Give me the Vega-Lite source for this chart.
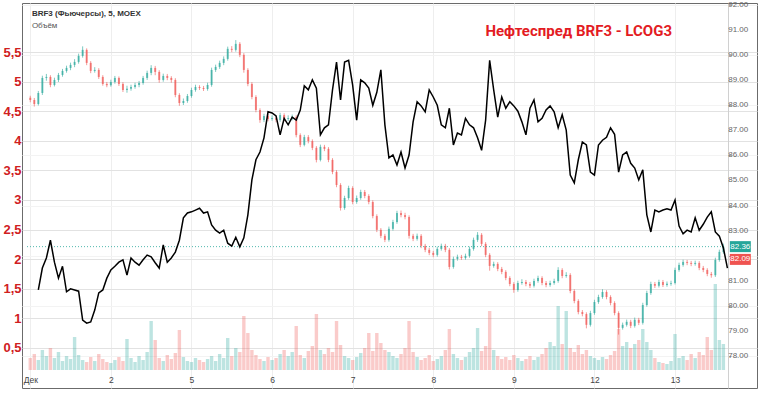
{
"$schema": "https://vega.github.io/schema/vega-lite/v6.json",
"width": 735, "height": 385,
"autosize": {"type": "none"},
"padding": {"left": 22, "top": 3, "right": 1, "bottom": 8},
"background": "white",
"config": {"view": {"stroke": "#6b6b6b", "strokeWidth": 1}, "axis": {"labelFont": "Liberation Sans"}},
"title": {"text": "Нефтеспред BRF3 - LCOG3", "anchor": "end", "frame": "group", "orient": "top", "color": "#e31b23", "font": "Roboto", "fontSize": 15, "fontWeight": "bold", "dx": -85, "dy": 38, "offset": 0},
"data": {"values": [
{"i":0,"o":88.30,"h":88.38,"l":88.12,"c":88.21,"v":12},
{"i":1,"o":88.21,"h":88.29,"l":87.95,"c":88.05,"v":16},
{"i":2,"o":88.05,"h":88.57,"l":87.99,"c":88.49,"v":10,"s":1.48},
{"i":3,"o":88.49,"h":89.18,"l":88.41,"c":89.09,"v":20,"s":1.85},
{"i":4,"o":89.09,"h":89.25,"l":88.98,"c":89.13,"v":14,"s":2.02},
{"i":5,"o":89.13,"h":89.20,"l":88.72,"c":88.81,"v":22,"s":2.32},
{"i":6,"o":88.81,"h":89.10,"l":88.75,"c":89.01,"v":12,"s":1.95},
{"i":7,"o":89.01,"h":89.29,"l":88.93,"c":89.21,"v":18,"s":1.68},
{"i":8,"o":89.21,"h":89.45,"l":89.14,"c":89.37,"v":9,"s":1.88},
{"i":9,"o":89.37,"h":89.58,"l":89.30,"c":89.49,"v":14,"s":1.45},
{"i":10,"o":89.49,"h":89.70,"l":89.40,"c":89.61,"v":11,"s":1.50},
{"i":11,"o":89.61,"h":89.84,"l":89.52,"c":89.73,"v":33,"s":1.48},
{"i":12,"o":89.73,"h":90.06,"l":89.66,"c":89.97,"v":15,"s":1.46},
{"i":13,"o":89.97,"h":90.35,"l":89.90,"c":90.21,"v":10,"s":0.97},
{"i":14,"o":90.21,"h":90.27,"l":89.60,"c":89.69,"v":8,"s":0.92},
{"i":15,"o":89.69,"h":89.76,"l":89.28,"c":89.37,"v":13,"s":0.94},
{"i":16,"o":89.37,"h":89.52,"l":89.30,"c":89.41,"v":9,"s":1.14},
{"i":17,"o":89.41,"h":89.48,"l":89.05,"c":89.13,"v":16,"s":1.43},
{"i":18,"o":89.13,"h":89.20,"l":88.78,"c":88.85,"v":11,"s":1.48},
{"i":19,"o":88.85,"h":88.93,"l":88.72,"c":88.80,"v":8,"s":1.68},
{"i":20,"o":88.80,"h":89.02,"l":88.74,"c":88.93,"v":7,"s":1.82},
{"i":21,"o":88.93,"h":89.17,"l":88.86,"c":89.09,"v":10,"s":1.88},
{"i":22,"o":89.09,"h":89.15,"l":88.77,"c":88.85,"v":13,"s":1.95},
{"i":23,"o":88.85,"h":88.92,"l":88.53,"c":88.61,"v":9,"s":1.99},
{"i":24,"o":88.61,"h":88.78,"l":88.50,"c":88.66,"v":31,"s":1.73},
{"i":25,"o":88.66,"h":88.82,"l":88.58,"c":88.73,"v":12,"s":2.02},
{"i":26,"o":88.73,"h":88.90,"l":88.66,"c":88.81,"v":8,"s":1.95},
{"i":27,"o":88.81,"h":88.97,"l":88.72,"c":88.89,"v":14,"s":1.90},
{"i":28,"o":88.89,"h":89.17,"l":88.82,"c":89.09,"v":10,"s":1.99},
{"i":29,"o":89.09,"h":89.38,"l":89.01,"c":89.29,"v":18,"s":2.07},
{"i":30,"o":89.29,"h":89.60,"l":89.20,"c":89.49,"v":49,"s":2.04},
{"i":31,"o":89.49,"h":89.57,"l":89.20,"c":89.33,"v":30,"s":1.94},
{"i":32,"o":89.33,"h":89.40,"l":88.90,"c":89.01,"v":12,"s":1.85},
{"i":33,"o":89.01,"h":89.26,"l":88.94,"c":89.17,"v":9,"s":2.24},
{"i":34,"o":89.17,"h":89.25,"l":89.00,"c":89.09,"v":15,"s":1.95},
{"i":35,"o":89.09,"h":89.16,"l":88.90,"c":89.01,"v":11,"s":2.02},
{"i":36,"o":89.01,"h":89.08,"l":88.32,"c":88.41,"v":17,"s":2.12},
{"i":37,"o":88.41,"h":88.48,"l":87.98,"c":88.09,"v":40,"s":2.32},
{"i":38,"o":88.09,"h":88.27,"l":88.01,"c":88.17,"v":13,"s":2.70},
{"i":39,"o":88.17,"h":88.45,"l":88.10,"c":88.37,"v":9,"s":2.78},
{"i":40,"o":88.37,"h":88.70,"l":88.30,"c":88.61,"v":8,"s":2.80},
{"i":41,"o":88.61,"h":88.82,"l":88.54,"c":88.73,"v":12,"s":2.83},
{"i":42,"o":88.73,"h":88.80,"l":88.61,"c":88.69,"v":10,"s":2.86},
{"i":43,"o":88.69,"h":88.77,"l":88.57,"c":88.65,"v":8,"s":2.78},
{"i":44,"o":88.65,"h":88.90,"l":88.58,"c":88.81,"v":11,"s":2.80},
{"i":45,"o":88.81,"h":89.50,"l":88.74,"c":89.41,"v":14,"s":2.58},
{"i":46,"o":89.41,"h":89.62,"l":89.33,"c":89.53,"v":9,"s":2.49},
{"i":47,"o":89.53,"h":89.78,"l":89.45,"c":89.69,"v":16,"s":2.44},
{"i":48,"o":89.69,"h":89.95,"l":89.60,"c":89.85,"v":12,"s":2.49},
{"i":49,"o":89.85,"h":90.34,"l":89.78,"c":90.25,"v":32,"s":2.27},
{"i":50,"o":90.25,"h":90.36,"l":90.12,"c":90.21,"v":14,"s":2.22},
{"i":51,"o":90.21,"h":90.60,"l":90.14,"c":90.45,"v":22,"s":2.37},
{"i":52,"o":90.45,"h":90.52,"l":89.92,"c":90.01,"v":18,"s":2.21},
{"i":53,"o":90.01,"h":90.08,"l":89.30,"c":89.41,"v":54,"s":2.36},
{"i":54,"o":89.41,"h":89.48,"l":88.76,"c":88.85,"v":37,"s":2.75},
{"i":55,"o":88.85,"h":88.92,"l":88.24,"c":88.33,"v":20,"s":3.34},
{"i":56,"o":88.33,"h":88.40,"l":87.72,"c":87.81,"v":15,"s":3.68},
{"i":57,"o":87.81,"h":87.88,"l":87.30,"c":87.41,"v":11,"s":3.81},
{"i":58,"o":87.41,"h":87.66,"l":87.33,"c":87.57,"v":9,"s":4.05},
{"i":59,"o":87.57,"h":87.65,"l":87.36,"c":87.45,"v":13,"s":4.49},
{"i":60,"o":87.45,"h":87.60,"l":87.38,"c":87.49,"v":10,"s":4.47},
{"i":61,"o":87.49,"h":87.57,"l":87.32,"c":87.41,"v":12,"s":4.42},
{"i":62,"o":87.41,"h":87.70,"l":87.34,"c":87.61,"v":16,"s":4.10},
{"i":63,"o":87.61,"h":87.68,"l":87.36,"c":87.45,"v":20,"s":4.38},
{"i":64,"o":87.45,"h":87.60,"l":87.37,"c":87.49,"v":14,"s":4.27},
{"i":65,"o":87.49,"h":87.63,"l":87.40,"c":87.53,"v":18,"s":4.40},
{"i":66,"o":87.53,"h":87.60,"l":86.72,"c":86.81,"v":44,"s":4.35},
{"i":67,"o":86.81,"h":86.88,"l":86.33,"c":86.42,"v":15,"s":4.52},
{"i":68,"o":86.42,"h":86.82,"l":86.36,"c":86.73,"v":12,"s":4.93},
{"i":69,"o":86.73,"h":86.81,"l":86.48,"c":86.57,"v":19,"s":4.86},
{"i":70,"o":86.57,"h":86.64,"l":86.21,"c":86.30,"v":24,"s":5.03},
{"i":71,"o":86.30,"h":86.37,"l":85.72,"c":85.82,"v":56,"s":4.89},
{"i":72,"o":85.82,"h":86.43,"l":85.76,"c":86.34,"v":20,"s":4.10},
{"i":73,"o":86.34,"h":86.42,"l":86.17,"c":86.26,"v":16,"s":4.22},
{"i":74,"o":86.26,"h":86.33,"l":85.73,"c":85.82,"v":22,"s":4.27},
{"i":75,"o":85.82,"h":85.89,"l":85.25,"c":85.34,"v":18,"s":4.86},
{"i":76,"o":85.34,"h":85.41,"l":84.73,"c":84.82,"v":49,"s":5.33},
{"i":77,"o":84.82,"h":84.89,"l":83.80,"c":83.90,"v":25,"s":4.69},
{"i":78,"o":83.90,"h":84.39,"l":83.83,"c":84.30,"v":14,"s":5.33},
{"i":79,"o":84.30,"h":84.79,"l":84.23,"c":84.70,"v":12,"s":5.36},
{"i":80,"o":84.70,"h":84.77,"l":84.05,"c":84.14,"v":10,"s":4.94},
{"i":81,"o":84.14,"h":84.40,"l":84.07,"c":84.30,"v":13,"s":4.35},
{"i":82,"o":84.30,"h":84.63,"l":84.23,"c":84.54,"v":17,"s":5.03},
{"i":83,"o":84.54,"h":84.62,"l":84.29,"c":84.38,"v":22,"s":4.98},
{"i":84,"o":84.38,"h":84.45,"l":84.05,"c":84.14,"v":37,"s":4.89},
{"i":85,"o":84.14,"h":84.21,"l":83.49,"c":83.58,"v":19,"s":4.60},
{"i":86,"o":83.58,"h":83.65,"l":82.94,"c":83.03,"v":37,"s":4.82},
{"i":87,"o":83.03,"h":83.10,"l":82.70,"c":82.79,"v":27,"s":5.20},
{"i":88,"o":82.79,"h":82.87,"l":82.54,"c":82.63,"v":20,"s":4.27},
{"i":89,"o":82.63,"h":83.16,"l":82.56,"c":83.07,"v":18,"s":3.71},
{"i":90,"o":83.07,"h":83.43,"l":83.00,"c":83.34,"v":14,"s":3.76},
{"i":91,"o":83.34,"h":83.79,"l":83.27,"c":83.70,"v":12,"s":3.59},
{"i":92,"o":83.70,"h":83.80,"l":83.53,"c":83.62,"v":16,"s":3.81},
{"i":93,"o":83.62,"h":83.71,"l":83.45,"c":83.54,"v":22,"s":3.54},
{"i":94,"o":83.54,"h":83.61,"l":82.68,"c":82.79,"v":49,"s":3.76},
{"i":95,"o":82.79,"h":82.87,"l":82.58,"c":82.67,"v":18,"s":4.32},
{"i":96,"o":82.67,"h":82.88,"l":82.60,"c":82.79,"v":13,"s":4.66},
{"i":97,"o":82.79,"h":82.86,"l":82.30,"c":82.39,"v":10,"s":4.59},
{"i":98,"o":82.39,"h":82.47,"l":82.14,"c":82.23,"v":12,"s":4.49},
{"i":99,"o":82.23,"h":82.31,"l":82.02,"c":82.11,"v":15,"s":4.86},
{"i":100,"o":82.11,"h":82.19,"l":81.94,"c":82.03,"v":9,"s":4.74},
{"i":101,"o":82.03,"h":82.36,"l":81.96,"c":82.27,"v":11,"s":4.60},
{"i":102,"o":82.27,"h":82.48,"l":82.20,"c":82.39,"v":14,"s":4.27},
{"i":103,"o":82.39,"h":82.47,"l":82.14,"c":82.23,"v":20,"s":4.22},
{"i":104,"o":82.23,"h":82.30,"l":81.45,"c":81.55,"v":41,"s":4.55},
{"i":105,"o":81.55,"h":81.96,"l":81.48,"c":81.87,"v":16,"s":3.93},
{"i":106,"o":81.87,"h":82.04,"l":81.80,"c":81.95,"v":12,"s":4.13},
{"i":107,"o":81.95,"h":82.03,"l":81.83,"c":81.91,"v":10,"s":4.10},
{"i":108,"o":81.91,"h":82.08,"l":81.84,"c":81.99,"v":13,"s":4.38},
{"i":109,"o":81.99,"h":82.36,"l":81.92,"c":82.27,"v":18,"s":4.27},
{"i":110,"o":82.27,"h":82.72,"l":82.20,"c":82.63,"v":22,"s":4.22},
{"i":111,"o":82.63,"h":82.94,"l":82.55,"c":82.83,"v":42,"s":4.05},
{"i":112,"o":82.83,"h":82.90,"l":82.38,"c":82.47,"v":19,"s":3.84},
{"i":113,"o":82.47,"h":82.54,"l":81.94,"c":82.03,"v":24,"s":4.35},
{"i":114,"o":82.03,"h":82.10,"l":81.40,"c":81.59,"v":59,"s":5.36},
{"i":115,"o":81.59,"h":81.76,"l":81.52,"c":81.67,"v":20,"s":4.86},
{"i":116,"o":81.67,"h":81.74,"l":81.38,"c":81.47,"v":14,"s":4.40},
{"i":117,"o":81.47,"h":81.55,"l":81.26,"c":81.35,"v":11,"s":4.74},
{"i":118,"o":81.35,"h":81.42,"l":81.02,"c":81.11,"v":13,"s":4.55},
{"i":119,"o":81.11,"h":81.18,"l":80.78,"c":80.87,"v":10,"s":4.66},
{"i":120,"o":80.87,"h":80.94,"l":80.52,"c":80.63,"v":15,"s":4.59},
{"i":121,"o":80.63,"h":81.00,"l":80.56,"c":80.91,"v":12,"s":4.50},
{"i":122,"o":80.91,"h":81.06,"l":80.84,"c":80.95,"v":9,"s":4.32},
{"i":123,"o":80.95,"h":81.03,"l":80.78,"c":80.87,"v":11,"s":4.10},
{"i":124,"o":80.87,"h":80.95,"l":80.71,"c":80.80,"v":14,"s":4.55},
{"i":125,"o":80.80,"h":81.08,"l":80.73,"c":80.99,"v":10,"s":4.69},
{"i":126,"o":80.99,"h":81.20,"l":80.92,"c":81.11,"v":13,"s":4.32},
{"i":127,"o":81.11,"h":81.18,"l":80.82,"c":80.91,"v":16,"s":4.38},
{"i":128,"o":80.91,"h":80.99,"l":80.74,"c":80.83,"v":22,"s":4.52},
{"i":129,"o":80.83,"h":81.00,"l":80.76,"c":80.91,"v":28,"s":4.59},
{"i":130,"o":80.91,"h":81.08,"l":80.84,"c":80.99,"v":24,"s":4.49},
{"i":131,"o":80.99,"h":81.54,"l":80.92,"c":81.43,"v":64,"s":4.22},
{"i":132,"o":81.43,"h":81.50,"l":81.10,"c":81.19,"v":26,"s":4.44},
{"i":133,"o":81.19,"h":81.34,"l":81.12,"c":81.23,"v":59,"s":4.18},
{"i":134,"o":81.23,"h":81.30,"l":80.50,"c":80.59,"v":22,"s":3.42},
{"i":135,"o":80.59,"h":80.66,"l":80.10,"c":80.19,"v":18,"s":3.29},
{"i":136,"o":80.19,"h":80.26,"l":79.66,"c":79.75,"v":25,"s":3.68},
{"i":137,"o":79.75,"h":79.83,"l":79.58,"c":79.67,"v":16,"s":3.98},
{"i":138,"o":79.67,"h":79.74,"l":79.10,"c":79.24,"v":20,"s":3.93},
{"i":139,"o":79.24,"h":79.80,"l":79.17,"c":79.71,"v":14,"s":3.47},
{"i":140,"o":79.71,"h":80.24,"l":79.64,"c":80.15,"v":12,"s":3.42},
{"i":141,"o":80.15,"h":80.44,"l":80.08,"c":80.35,"v":10,"s":3.93},
{"i":142,"o":80.35,"h":80.66,"l":80.28,"c":80.55,"v":13,"s":4.01},
{"i":143,"o":80.55,"h":80.62,"l":80.26,"c":80.35,"v":11,"s":4.06},
{"i":144,"o":80.35,"h":80.42,"l":80.02,"c":80.11,"v":15,"s":4.22},
{"i":145,"o":80.11,"h":80.18,"l":79.62,"c":79.71,"v":19,"s":4.11},
{"i":146,"o":79.71,"h":79.78,"l":78.85,"c":79.12,"v":41,"s":3.47},
{"i":147,"o":79.12,"h":79.33,"l":79.05,"c":79.24,"v":24,"s":3.76},
{"i":148,"o":79.24,"h":79.45,"l":79.17,"c":79.36,"v":28,"s":3.81},
{"i":149,"o":79.36,"h":79.44,"l":79.11,"c":79.20,"v":22,"s":3.62},
{"i":150,"o":79.20,"h":79.53,"l":79.13,"c":79.44,"v":26,"s":3.54},
{"i":151,"o":79.44,"h":79.52,"l":79.23,"c":79.32,"v":30,"s":3.34},
{"i":152,"o":79.32,"h":80.12,"l":79.25,"c":80.03,"v":41,"s":3.51},
{"i":153,"o":80.03,"h":80.60,"l":79.96,"c":80.51,"v":28,"s":2.75},
{"i":154,"o":80.51,"h":80.96,"l":80.44,"c":80.87,"v":20,"s":2.46},
{"i":155,"o":80.87,"h":80.95,"l":80.71,"c":80.80,"v":12,"s":2.83},
{"i":156,"o":80.80,"h":81.04,"l":80.73,"c":80.95,"v":8,"s":2.80},
{"i":157,"o":80.95,"h":81.03,"l":80.75,"c":80.83,"v":7,"s":2.83},
{"i":158,"o":80.83,"h":80.97,"l":80.76,"c":80.88,"v":6,"s":2.85},
{"i":159,"o":80.88,"h":81.00,"l":80.80,"c":80.91,"v":9,"s":2.83},
{"i":160,"o":80.91,"h":81.52,"l":80.85,"c":81.43,"v":36,"s":3.00},
{"i":161,"o":81.43,"h":81.72,"l":81.36,"c":81.63,"v":12,"s":2.56},
{"i":162,"o":81.63,"h":81.84,"l":81.56,"c":81.75,"v":14,"s":2.43},
{"i":163,"o":81.75,"h":81.83,"l":81.62,"c":81.71,"v":10,"s":2.49},
{"i":164,"o":81.71,"h":81.79,"l":81.58,"c":81.67,"v":16,"s":2.46},
{"i":165,"o":81.67,"h":81.80,"l":81.60,"c":81.71,"v":12,"s":2.70},
{"i":166,"o":81.71,"h":81.78,"l":81.42,"c":81.51,"v":18,"s":2.49},
{"i":167,"o":81.51,"h":81.59,"l":81.34,"c":81.43,"v":15,"s":2.59},
{"i":168,"o":81.43,"h":81.50,"l":81.18,"c":81.27,"v":33,"s":2.71},
{"i":169,"o":81.27,"h":81.35,"l":81.12,"c":81.22,"v":20,"s":2.80},
{"i":170,"o":81.22,"h":81.92,"l":81.15,"c":81.83,"v":86,"s":2.46},
{"i":171,"o":81.83,"h":82.24,"l":81.76,"c":82.15,"v":30,"s":2.39},
{"i":172,"o":82.15,"h":82.48,"l":82.08,"c":82.36,"v":26,"s":2.19},
{"i":173,"s":1.85}
]},
"layer": [
{
 "layer": [
  {
   "mark": {"type": "bar", "width": 3.4, "opacity": 0.3},
   "encoding": {
    "x": {"field": "i", "type": "quantitative", "title": null, "scale": {"domain": [-0.81, 179.1], "nice": false, "zero": false},
          "axis": {"orient": "bottom", "offset": -17, "values": [0,20,40,60,80,100,120,140,160], "labelExpr": "['Дек','2','5','6','7','8','9','12','13'][round(datum.value/20)]", "domain": false, "ticks": false, "labelPadding": 4, "labelFontSize": 8.5, "labelColor": "#444", "grid": true, "gridColor": "#eeeeee", "title": null}},
    "y": {"field": "v", "type": "quantitative", "title": null, "stack": null, "scale": {"domain": [-18, 367], "nice": false, "zero": false}, "axis": null},
    "y2": {"datum": 0},
    "color": {"condition": {"test": "datum.c >= datum.o", "value": "#26a69a"}, "value": "#ef5350"}
   }
  },
  {
   "data": {"values": [{"txt": "BRF3 (Фьючерсы), 5, MOEX"}]},
   "mark": {"type": "text", "align": "left", "baseline": "middle", "font": "Liberation Sans", "fontSize": 8, "fontWeight": "bold", "color": "#333"},
   "encoding": {"x": {"datum": 0.4}, "y": {"datum": 356, "axis": null}, "text": {"field": "txt"}}
  },
  {
   "data": {"values": [{"txt": "Объём"}]},
   "mark": {"type": "text", "align": "left", "baseline": "middle", "font": "Liberation Sans", "fontSize": 8, "color": "#555"},
   "encoding": {"x": {"datum": 0.4}, "y": {"datum": 344.5, "axis": null}, "text": {"field": "txt"}}
  }
 ]
},
{
 "layer": [
  {
   "mark": {"type": "rule", "strokeWidth": 1, "opacity": 0.6},
   "encoding": {
    "x": {"field": "i", "type": "quantitative", "title": null},
    "y": {"field": "l", "type": "quantitative", "title": null, "scale": {"domain": [76.72, 92.08], "nice": false, "zero": false},
          "axis": {"orient": "right", "offset": -29, "values": [78,79,80,81,82,83,84,85,86,87,88,89,90,91,92], "labels": false, "tickSize": 3, "tickColor": "#aaaaaa", "domain": true, "domainColor": "#d0d0d0", "grid": true, "gridColor": "#f3f3f3", "title": null}},
    "y2": {"field": "h"},
    "color": {"condition": {"test": "datum.c >= datum.o", "value": "#26a69a"}, "value": "#ef5350"}
   }
  },
  {
   "mark": {"type": "bar", "width": 2, "opacity": 0.65},
   "encoding": {
    "x": {"field": "i", "type": "quantitative", "title": null},
    "y": {"field": "o", "type": "quantitative", "title": null},
    "y2": {"field": "c"},
    "color": {"condition": {"test": "datum.c >= datum.o", "value": "#26a69a"}, "value": "#ef5350"}
   }
  },
  {
   "data": {"values": [{"p":78,"lab":"78.00"},{"p":79,"lab":"79.00"},{"p":80,"lab":"80.00"},{"p":81,"lab":"81.00"},{"p":83,"lab":"83.00"},{"p":84,"lab":"84.00"},{"p":85,"lab":"85.00"},{"p":86,"lab":"86.00"},{"p":87,"lab":"87.00"},{"p":88,"lab":"88.00"},{"p":89,"lab":"89.00"},{"p":90,"lab":"90.00"},{"p":91,"lab":"91.00"},{"p":92,"lab":"92.00"}]},
   "mark": {"type": "text", "align": "left", "baseline": "middle", "font": "Liberation Sans", "fontSize": 8, "color": "#666"},
   "encoding": {"x": {"datum": 173.2}, "y": {"field": "p", "type": "quantitative", "title": null}, "text": {"field": "lab"}}
  },
  {
   "data": {"values": [{"p": 82.36}]},
   "mark": {"type": "rule", "strokeDash": [1, 2], "color": "#26a69a", "opacity": 0.8, "strokeWidth": 1},
   "encoding": {"x": {"datum": -0.81}, "x2": {"datum": 172.5}, "y": {"field": "p", "type": "quantitative", "title": null}}
  },
  {
   "data": {"values": [{"p": 82.36, "lab": "82.36"}]},
   "mark": {"type": "tick", "orient": "horizontal", "size": 21, "thickness": 11, "color": "#26a69a", "opacity": 1},
   "encoding": {"x": {"datum": 176.2}, "y": {"field": "p", "type": "quantitative", "title": null}}
  },
  {
   "data": {"values": [{"p": 82.36, "lab": "82.36"}]},
   "mark": {"type": "text", "color": "white", "fontSize": 8, "font": "Liberation Sans"},
   "encoding": {"x": {"datum": 176.2}, "y": {"field": "p", "type": "quantitative", "title": null}, "text": {"field": "lab"}}
  },
  {
   "data": {"values": [{"p": 82.09, "lab": "82.09"}]},
   "mark": {"type": "tick", "orient": "horizontal", "size": 21, "thickness": 11, "color": "#ef5350", "opacity": 1, "yOffset": 6},
   "encoding": {"x": {"datum": 176.2}, "y": {"field": "p", "type": "quantitative", "title": null}}
  },
  {
   "data": {"values": [{"p": 82.09, "lab": "82.09"}]},
   "mark": {"type": "text", "color": "white", "fontSize": 8, "font": "Liberation Sans", "yOffset": 6},
   "encoding": {"x": {"datum": 176.2}, "y": {"field": "p", "type": "quantitative", "title": null}, "text": {"field": "lab"}}
  }
 ]
},
{
 "mark": {"type": "line", "color": "#000000", "strokeWidth": 1.5},
 "encoding": {
  "x": {"field": "i", "type": "quantitative", "title": null},
  "y": {"field": "s", "type": "quantitative", "title": null, "scale": {"domain": [-0.176, 6.328], "nice": false, "zero": false},
        "axis": {"orient": "left", "values": [0.5,1,1.5,2,2.5,3,3.5,4,4.5,5,5.5], "format": ".1~f", "labelExpr": "replace(datum.label, '.', ',')", "labelFont": "Liberation Sans", "labelFontSize": 13, "labelFontWeight": "bold", "labelColor": "#d0201f", "labelPadding": 1, "ticks": false, "domain": false, "grid": true, "gridColor": "#e2e2e2", "title": null}}
 }
}
],
"resolve": {"scale": {"y": "independent"}, "axis": {"y": "independent"}}
}
